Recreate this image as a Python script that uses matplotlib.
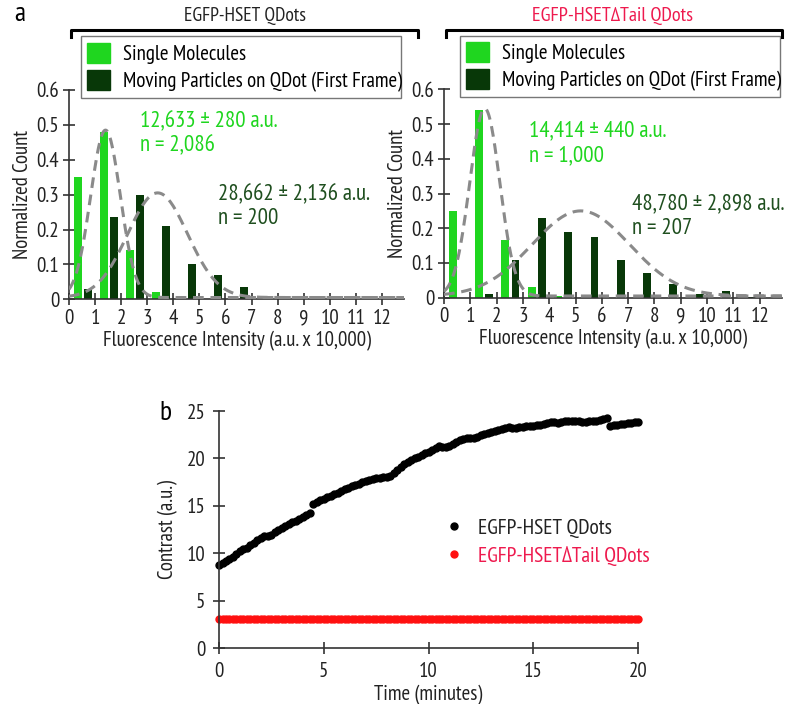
import numpy as np
import matplotlib
matplotlib.use("Agg")
import matplotlib.pyplot as plt
from matplotlib.lines import Line2D
from matplotlib.patches import Patch

plt.rcParams['font.family'] = ['PT Sans Narrow', 'DejaVu Sans']

# ---- panel a: histogram data (bins of 1 x 10,000 a.u.) ----
bins = np.arange(13)
hset_single = [0.35, 0.48, 0.14, 0.02, 0.005, 0, 0, 0, 0, 0, 0, 0, 0]
hset_moving = [0.03, 0.235, 0.30, 0.21, 0.10, 0.07, 0.035, 0.002, 0, 0.003, 0, 0, 0.008]
tail_single = [0.25, 0.54, 0.165, 0.03, 0.005, 0, 0, 0, 0, 0, 0, 0, 0]
tail_moving = [0.0, 0.01, 0.11, 0.23, 0.19, 0.175, 0.11, 0.07, 0.04, 0.012, 0.018, 0.003, 0]

# gaussian fits: amplitude, centre, sigma
hset_single_fit = (0.48, 1.4, 0.57)
hset_moving_fit = (0.30, 3.4, 1.15)
tail_single_fit = (0.54, 1.55, 0.57)
tail_moving_fit = (0.245, 5.2, 1.85)

# ---- panel b: contrast vs time, one frame every 10 s ----
contrast_hset = [
    8.8, 9.0, 9.2, 9.4, 9.6, 9.9,
    10.2, 10.4, 10.6, 10.9, 11.1, 11.4,
    11.6, 11.8, 11.8, 11.9, 12.2, 12.4,
    12.7, 12.9, 13.1, 13.3, 13.4, 13.6,
    13.8, 14.0, 14.2, 15.2, 15.4, 15.6,
    15.7, 15.9, 16.0, 16.2, 16.4, 16.6,
    16.8, 16.9, 17.1, 17.2, 17.3, 17.5,
    17.6, 17.7, 17.8, 17.9, 17.9, 18.0,
    18.0, 18.2, 18.5, 18.8, 19.1, 19.4,
    19.6, 19.8, 20.0, 20.2, 20.4, 20.6,
    20.7, 20.9, 21.1, 21.3, 21.2, 21.2,
    21.3, 21.5, 21.7, 21.9, 22.1, 22.2,
    22.2, 22.2, 22.3, 22.5, 22.6, 22.7,
    22.8, 22.9, 23.0, 23.1, 23.2, 23.3,
    23.2, 23.2, 23.3, 23.3, 23.4, 23.4,
    23.4, 23.5, 23.5, 23.6, 23.7, 23.8,
    23.8, 23.7, 23.8, 23.9, 24.0, 24.0,
    24.0, 23.9, 23.8, 23.8, 23.9, 24.0,
    24.0, 24.1, 24.2, 24.3, 23.4, 23.5,
    23.5, 23.6, 23.6, 23.7, 23.7, 23.8,
    23.8,
]
contrast_tail = [
    3.10, 3.10, 3.10, 3.10, 3.10, 3.10, 3.10, 3.10, 3.10, 3.10,
    3.10, 3.10, 3.10, 3.10, 3.10, 3.10, 3.10, 3.10, 3.10, 3.10,
    3.10, 3.10, 3.10, 3.10, 3.10, 3.10, 3.10, 3.10, 3.10, 3.10,
    3.09, 3.09, 3.09, 3.09, 3.09, 3.09, 3.09, 3.09, 3.09, 3.09,
    3.09, 3.09, 3.09, 3.09, 3.09, 3.09, 3.09, 3.09, 3.09, 3.09,
    3.09, 3.09, 3.09, 3.09, 3.09, 3.09, 3.09, 3.09, 3.09, 3.09,
    3.08, 3.08, 3.08, 3.08, 3.08, 3.08, 3.08, 3.08, 3.08, 3.08,
    3.08, 3.08, 3.08, 3.08, 3.08, 3.08, 3.08, 3.08, 3.08, 3.08,
    3.08, 3.08, 3.08, 3.08, 3.08, 3.08, 3.08, 3.08, 3.08, 3.08,
    3.07, 3.07, 3.07, 3.07, 3.07, 3.07, 3.07, 3.07, 3.07, 3.07,
    3.07, 3.07, 3.07, 3.07, 3.07, 3.07, 3.07, 3.07, 3.07, 3.07,
    3.07, 3.07, 3.07, 3.07, 3.07, 3.07, 3.07, 3.07, 3.07, 3.07,
    3.07,
]
frame_interval = 10 / 60.0
time_min = np.arange(len(contrast_hset)) * frame_interval

GREEN = "#1fd61f"
DARK = "#083808"
DARK_TXT = "#1f4f1f"
PINK = "#ee1a4e"
AXC = "#333333"

fig = plt.figure(figsize=(7.85, 7.04), dpi=100)

def hist_panel(ax, single, moving, fit_s, fit_m, txt_s, txt_m, pos_s, pos_m, legend_box):
    ax.bar(bins + 0.33, single, width=0.3, color=GREEN, zorder=2)
    ax.bar(bins + 0.72, moving, width=0.3, color=DARK, zorder=2)
    xs = np.linspace(0, 12.85, 400)
    for a, mu, sd in (fit_s, fit_m):
        ax.plot(xs, a * np.exp(-(xs - mu) ** 2 / (2 * sd ** 2)) + 0.005,
                color="#8a8a8a", lw=2.2, ls=(0, (3.5, 2.2)), zorder=3)
    ax.set_xlim(0, 12.85)
    ax.set_ylim(0, 0.6)
    ax.set_xticks(range(13))
    ax.set_yticks([0, 0.1, 0.2, 0.3, 0.4, 0.5, 0.6])
    ax.set_yticklabels(["0", "0.1", "0.2", "0.3", "0.4", "0.5", "0.6"])
    for s in ("top", "right"):
        ax.spines[s].set_visible(False)
    for s in ("left", "bottom"):
        ax.spines[s].set_color(AXC)
        ax.spines[s].set_linewidth(1.2)
    ax.tick_params(direction="inout", length=8, width=1.2, colors=AXC, labelsize=15,
                   labelcolor="#222222", pad=3)
    ax.set_xlabel("Fluorescence Intensity (a.u. x 10,000)", fontsize=15, color="#222222", labelpad=2)
    ax.set_ylabel("Normalized Count", fontsize=15, color="#222222", labelpad=3)
    ax.text(pos_s[0], pos_s[1], txt_s, color=GREEN, fontsize=16.5, va="top", linespacing=1.2)
    ax.text(pos_m[0], pos_m[1], txt_m, color=DARK_TXT, fontsize=16.5, va="top", linespacing=1.2)
    handles = [Patch(color=GREEN), Patch(color=DARK)]
    leg = ax.legend(handles, ["Single Molecules", "Moving Particles on QDot (First Frame)"],
                    loc="lower left", bbox_to_anchor=legend_box, mode="expand",
                    fontsize=15, frameon=True, fancybox=False, edgecolor="#555555",
                    handlelength=1.1, handleheight=1.1, handletextpad=0.6,
                    labelspacing=0.3, borderpad=0.3, borderaxespad=0)
    leg.get_frame().set_linewidth(1.0)

ax1 = fig.add_axes([0.0879, 0.5749, 0.4268, 0.2973])
hist_panel(ax1, hset_single, hset_moving, hset_single_fit, hset_moving_fit,
           "12,633 \u00b1 280 a.u.\nn = 2,086", "28,662 \u00b1 2,136 a.u.\nn = 200",
           (2.72, 0.54), (5.72, 0.33), (0.036, 0.962, 0.955, 0.29))

ax2 = fig.add_axes([0.5656, 0.5771, 0.4306, 0.2960])
hist_panel(ax2, tail_single, tail_moving, tail_single_fit, tail_moving_fit,
           "14,414 \u00b1 440 a.u.\nn = 1,000", "48,780 \u00b1 2,898 a.u.\nn = 207",
           (3.23, 0.51), (7.15, 0.30), (0.047, 0.962, 0.947, 0.29))

# brackets and panel titles
for x0, x1 in ((71, 418), (446, 782)):
    fig.add_artist(Line2D([x0 / 785, x0 / 785, x1 / 785, x1 / 785],
                          [1 - 37 / 704, 1 - 30 / 704, 1 - 30 / 704, 1 - 37 / 704],
                          color="black", lw=2.2, transform=fig.transFigure))
fig.text(245 / 785, 1 - 16 / 704, "EGFP-HSET QDots", ha="center", va="center",
         fontsize=14, color="#222222")
fig.text(613 / 785, 1 - 16 / 704, "EGFP-HSET\u0394Tail QDots", ha="center", va="center",
         fontsize=14.5, color=PINK)
fig.text(20 / 785, 1 - 14 / 704, "a", fontsize=20, va="center", ha="center")
fig.text(165 / 785, 1 - 413 / 704, "b", fontsize=20, va="center", ha="center")

# panel b
ax3 = fig.add_axes([0.279, 0.0795, 0.5338, 0.3366])
ax3.plot(time_min, contrast_hset, "o", color="black", ms=5, label="EGFP-HSET QDots", clip_on=False)
ax3.plot(time_min, contrast_tail, "o", color="#ff1010", ms=5, label="EGFP-HSET\u0394Tail QDots",
         clip_on=False)
ax3.set_xlim(0, 20)
ax3.set_ylim(0, 25)
ax3.set_xticks([0, 5, 10, 15, 20])
ax3.set_yticks([0, 5, 10, 15, 20, 25])
for s in ("top", "right"):
    ax3.spines[s].set_visible(False)
for s in ("left", "bottom"):
    ax3.spines[s].set_color(AXC)
    ax3.spines[s].set_linewidth(1.2)
ax3.tick_params(direction="inout", length=8, width=1.2, colors=AXC, labelsize=15,
                labelcolor="#222222", pad=6)
ax3.set_xlabel("Time (minutes)", fontsize=15, color="#222222", labelpad=3)
ax3.set_ylabel("Contrast (a.u.)", fontsize=15, color="#222222", labelpad=6)
leg3 = ax3.legend(loc="center left", bbox_to_anchor=(0.5, 0.447), frameon=False,
                  fontsize=15.5, handlelength=0.6, handletextpad=0.8, labelspacing=0.38)
leg3.get_texts()[0].set_color("#222222")
leg3.get_texts()[1].set_color(PINK)

fig.savefig("out.png", dpi=100)
